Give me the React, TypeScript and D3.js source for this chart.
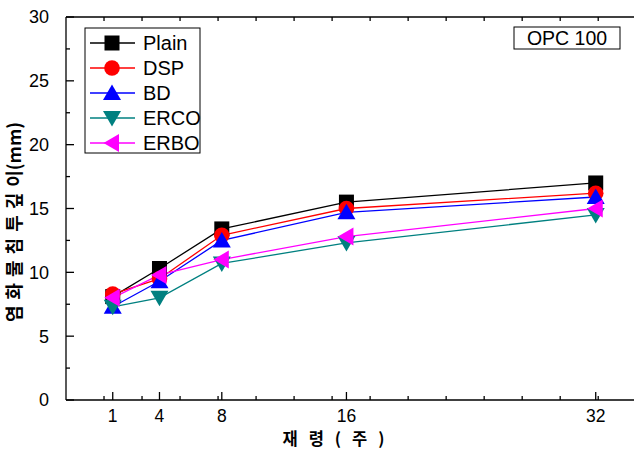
import React from 'react';
import * as d3 from 'd3';

// ages in weeks
const ages = [1, 4, 8, 16, 32];
const plain = [8.1, 10.3, 13.4, 15.5, 17.0];
const dsp = [8.3, 9.5, 12.9, 15.0, 16.2];
const bd = [7.3, 9.3, 12.5, 14.7, 15.9];
const erco = [7.3, 8.0, 10.7, 12.3, 14.5];
const erbo = [8.0, 9.8, 11.0, 12.8, 15.0];

const yTicks = [0, 5, 10, 15, 20, 25, 30];
const seriesNames = ['Plain', 'DSP', 'BD', 'ERCO', 'ERBO'];
const seriesColors = ['#000000', '#ff0000', '#0000ff', '#008080', '#ff00ff'];
const seriesShapes = ['square', 'circle', 'up', 'down', 'left'];

const W = 634, H = 452;
const margin = { top: 17, left: 66, bottom: 52 };

function Marker({ shape, x, y, color }: { shape: string; x: number; y: number; color: string }) {
  const s = 7.5;
  if (shape === 'square') return <rect x={x - 7.5} y={y - 7.5} width={15} height={15} fill={color} />;
  if (shape === 'circle') return <circle cx={x} cy={y} r={7.8} fill={color} />;
  let pts: number[][] = [];
  if (shape === 'up') pts = [[x, y - s - 1], [x - s - 1.5, y + s - 0.5], [x + s + 1.5, y + s - 0.5]];
  if (shape === 'down') pts = [[x, y + s + 1], [x - s - 1.5, y - s + 0.5], [x + s + 1.5, y - s + 0.5]];
  if (shape === 'left') pts = [[x - s - 1, y], [x + s - 0.5, y - s - 1.5], [x + s - 0.5, y + s + 1.5]];
  return <polygon points={pts.map(p => p.join(',')).join(' ')} fill={color} />;
}

export default function App() {
  const x = d3.scaleLinear().domain([-2, 36]).range([margin.left, margin.left + 38 * 15.58]);
  const y = d3.scaleLinear().domain([0, 30]).range([H - margin.bottom, margin.top]);
  const data = [plain, dsp, bd, erco, erbo];
  const line = d3.line<number>().x((d, i) => x(ages[i])).y(d => y(d));

  const yMinor = d3.range(2.5, 30, 5);
  const xMinor = d3.range(-2, 36, 2.44).slice(1);
  const x0 = margin.left, y0 = H - margin.bottom, yTop = margin.top;
  const font = '"Liberation Sans", Arial, sans-serif';
  const kfont = '"Noto Sans CJK KR", sans-serif';

  return (
    <svg width={W} height={H} style={{ position: 'absolute', left: 0, top: 0, background: '#fff' }}>
      <rect width={W} height={H} fill="#fff" />
      {/* axes */}
      <g stroke="#000" strokeWidth={1.3} fill="none">
        <line x1={x0} y1={yTop} x2={x0} y2={y0} />
        <line x1={x0} y1={y0} x2={W} y2={y0} />
        <line x1={x0} y1={yTop} x2={W} y2={yTop} />
        {yTicks.map(t => <line key={'yt' + t} x1={x0} x2={x0 + 8} y1={y(t)} y2={y(t)} />)}
        {yMinor.map(t => <line key={'ym' + t} x1={x0} x2={x0 + 4} y1={y(t)} y2={y(t)} />)}
        {ages.map(a => <line key={'xt' + a} x1={x(a)} x2={x(a)} y1={y0} y2={y0 - 8} />)}
        {xMinor.map(t => <line key={'xm' + t} x1={x(t)} x2={x(t)} y1={y0} y2={y0 - 4} />)}
        {xMinor.map(t => <line key={'xtop' + t} x1={x(t)} x2={x(t)} y1={yTop} y2={yTop + 4} />)}
      </g>
      <g fontFamily={font} fontSize={18} fill="#000">
        {yTicks.map(t => (
          <text key={'yl' + t} x={49} y={y(t)} dy="0.36em" textAnchor="end">{t}</text>
        ))}
        {ages.map(a => (
          <text key={'xl' + a} x={x(a)} y={422} fontSize={17.5} textAnchor="middle">{a}</text>
        ))}
      </g>
      <text x={339} y={445} textAnchor="middle" fontFamily={kfont} fontWeight="bold" fontSize={16.5}
        letterSpacing={11}>재령(주)</text>
      <text transform="translate(21,222) rotate(-90)" textAnchor="middle" fontFamily={kfont}
        fontWeight="bold" fontSize={18}>
        <tspan letterSpacing={6}>염화물침투깊</tspan><tspan>이(mm)</tspan>
      </text>

      {/* series */}
      {data.map((vals, si) => (
        <path key={'l' + si} d={line(vals) || ''} fill="none" stroke={seriesColors[si]} strokeWidth={1.3} />
      ))}
      {data.map((vals, si) => (
        <g key={'m' + si}>
          {vals.map((v, i) => (
            <Marker key={i} shape={seriesShapes[si]} x={x(ages[i])} y={y(v)} color={seriesColors[si]} />
          ))}
        </g>
      ))}

      {/* legend */}
      <rect x={85} y={28} width={115} height={125} fill="#fff" stroke="#000" strokeWidth={1} />
      {seriesNames.map((n, i) => {
        const ly = 43 + i * 25;
        return (
          <g key={'lg' + n}>
            <line x1={90} x2={135} y1={ly} y2={ly} stroke={seriesColors[i]} strokeWidth={1.3} />
            <Marker shape={seriesShapes[i]} x={112} y={ly} color={seriesColors[i]} />
            <text x={143} y={ly} dy="0.36em" fontFamily={font} fontSize={20}>{n}</text>
          </g>
        );
      })}

      <rect x={514} y={27} width={106} height={22} fill="#fff" stroke="#000" strokeWidth={1} />
      <text x={567} y={38} dy="0.36em" textAnchor="middle" fontFamily={font} fontSize={19.5}>OPC 100</text>
    </svg>
  );
}
